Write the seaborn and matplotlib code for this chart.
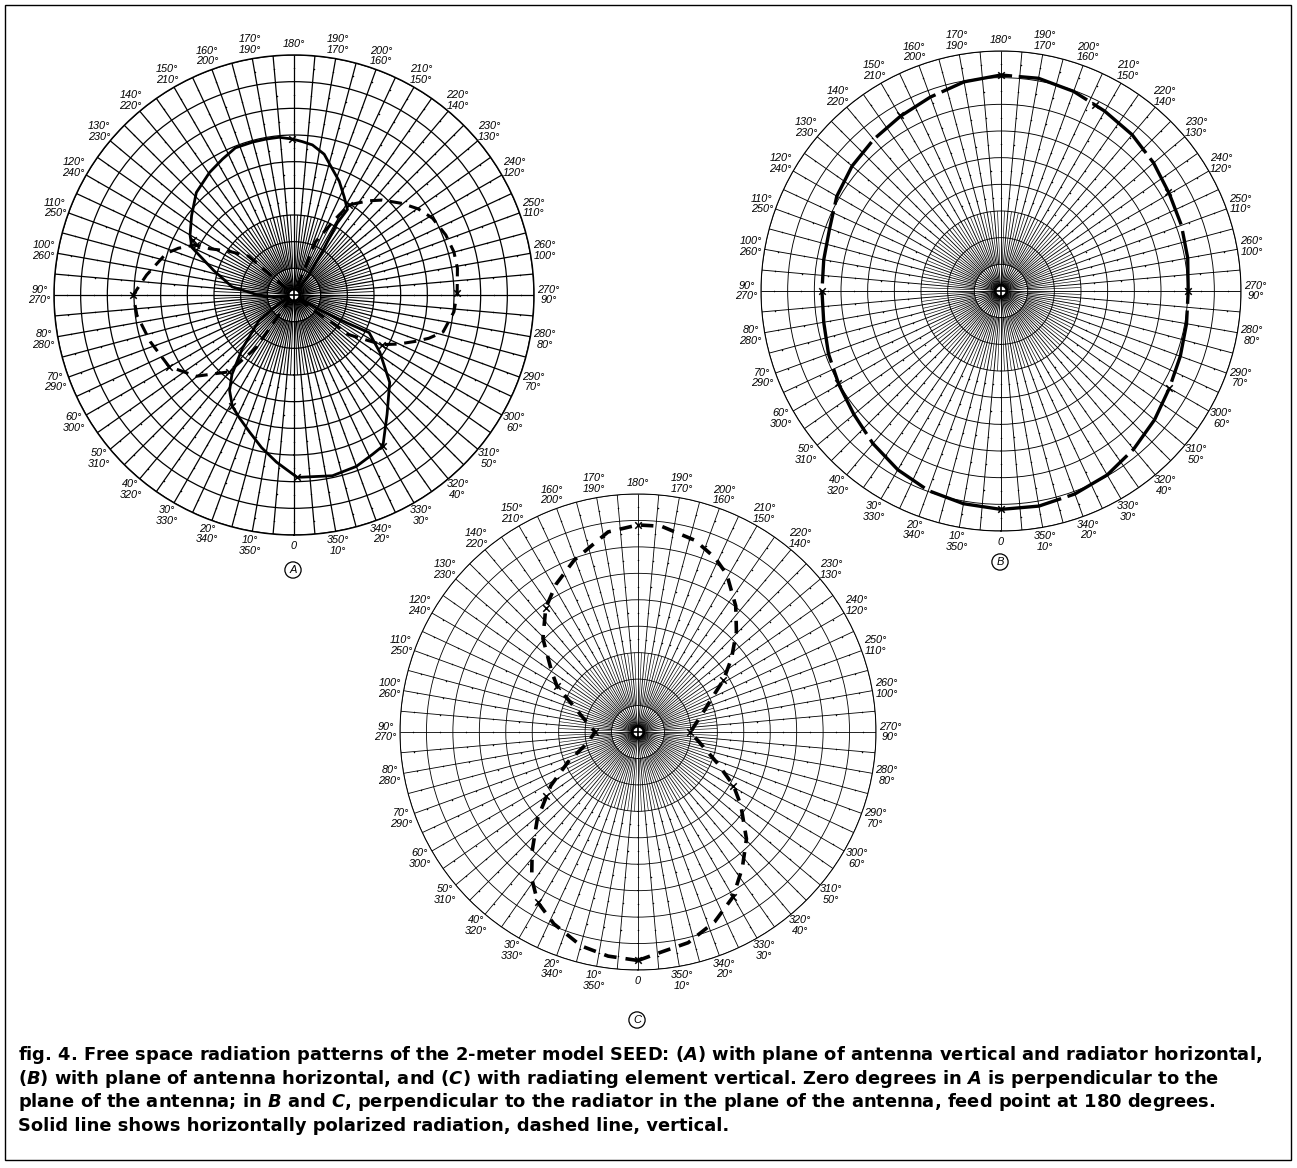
import numpy as np
import matplotlib.pyplot as plt
import seaborn as sns
from matplotlib.patches import Rectangle

# ---- data (angle in degrees, relative field 0..1) ----
# A: plane of antenna vertical, radiator horizontal
a_solid_top_deg = [80, 83, 90, 97.5, 107, 115, 120, 127.8, 136.4, 145.4, 152.3, 158.3, 164.8, 169.8, 174.6, 179.4,
                   183.1, 187, 192.1, 196.8, 201.7, 207, 212, 211, 213, 216, 218]
a_solid_top_r = [0.03, 0.07, 0.15, 0.26, 0.35, 0.47, 0.50, 0.54, 0.59, 0.62, 0.64, 0.66, 0.66, 0.66, 0.66, 0.65,
                 0.64, 0.63, 0.60, 0.55, 0.51, 0.46, 0.42, 0.35, 0.22, 0.11, 0.03]
a_solid_bot_deg = [300, 300, 297.8, 296.6, 303.7, 312.4, 322, 329.5, 333.7, 340, 348, 359, 6, 12, 18, 24, 29, 34,
                   38, 44, 54, 60, 62]
a_solid_bot_r = [0.03, 0.125, 0.25, 0.35, 0.43, 0.54, 0.63, 0.73, 0.74, 0.76, 0.77, 0.76, 0.70, 0.65, 0.60, 0.56,
                 0.53, 0.48, 0.42, 0.31, 0.18, 0.07, 0.03]
a_dash_left_deg = [130, 130.4, 123.7, 118.8, 117, 112, 108, 97.7, 90, 82.7, 72.1, 60.2, 50.3, 40.3, 35.7, 36.9, 40]
a_dash_left_r = [0.04, 0.25, 0.33, 0.40, 0.46, 0.52, 0.56, 0.62, 0.67, 0.66, 0.63, 0.60, 0.53, 0.42, 0.27, 0.10, 0.03]
a_dash_right_deg = [202, 202.1, 208.5, 211.4, 218.3, 222.9, 229.7, 235.3, 241, 248.4, 254.9, 260.7, 269.4, 276,
                    283.9, 287.8, 291, 295.2, 299.5, 302.1, 306, 305.7, 307.6, 310]
a_dash_right_r = [0.04, 0.24, 0.36, 0.44, 0.50, 0.54, 0.59, 0.63, 0.66, 0.68, 0.69, 0.69, 0.68, 0.67, 0.64, 0.59,
                  0.54, 0.48, 0.42, 0.35, 0.28, 0.21, 0.11, 0.03]
a_solid_x_deg = [179.4, 359, 329.5, 118.4, 29]
a_solid_x_r = [0.65, 0.76, 0.73, 0.48, 0.53]
a_dash_x_deg = [90, 269.4, 60.2, 117, 211.4, 299.5, 40.3]
a_dash_x_r = [0.67, 0.68, 0.60, 0.46, 0.44, 0.42, 0.42]

# B: plane of antenna horizontal
b_solid_deg = list(range(0, 361, 10))
b_solid_r = [0.91, 0.90, 0.885, 0.86, 0.83, 0.80, 0.78, 0.765, 0.75, 0.746, 0.75, 0.76, 0.79, 0.81, 0.825, 0.84,
             0.86, 0.885, 0.90, 0.90, 0.885, 0.865, 0.85, 0.83, 0.81, 0.80, 0.79, 0.78, 0.785, 0.795, 0.81, 0.835,
             0.86, 0.885, 0.90, 0.91, 0.91]
b_x_deg = [180, 239.4, 270, 300, 0, 90, 150, 60.7, 206.9]
b_x_r = [0.90, 0.81, 0.78, 0.81, 0.91, 0.746, 0.845, 0.78, 0.87]

# C: radiating element vertical
c_dash_deg = [0, 7.6, 14.9, 23.7, 30.5, 36, 41.6, 49.1, 58.4, 66.8, 77.3, 90, 101, 113.7, 119.4, 124.7, 134.5,
              143.4, 151, 159.6, 171.5, 180, 186.5, 196.6, 203.9, 209.4, 217.8, 224.5, 231.8, 238.7, 243.5, 255.2,
              270, 284, 291.6, 299.3, 305.4, 314.6, 322.5, 330.1, 338, 346.6, 354, 360]
c_dash_r = [0.96, 0.95, 0.93, 0.88, 0.83, 0.76, 0.67, 0.56, 0.43, 0.32, 0.22, 0.18, 0.22, 0.31, 0.39, 0.44, 0.56,
            0.65, 0.71, 0.77, 0.85, 0.87, 0.87, 0.84, 0.80, 0.76, 0.67, 0.59, 0.50, 0.42, 0.36, 0.275,
            0.22, 0.29, 0.36, 0.46, 0.53, 0.64, 0.72, 0.80, 0.86, 0.91, 0.93, 0.96]
c_x_deg = [180, 90, 270, 0, 30.5, 330.1, 119.4, 238.7, 55.4, 299.3, 143.4]
c_x_r = [0.87, 0.18, 0.22, 0.96, 0.83, 0.80, 0.39, 0.42, 0.47, 0.46, 0.65]

caption = [
    "fig. 4. Free space radiation patterns of the 2-meter model SEED: ($A$) with plane of antenna vertical and radiator horizontal,",
    "($B$) with plane of antenna horizontal, and ($C$) with radiating element vertical. Zero degrees in $A$ is perpendicular to the",
    "plane of the antenna; in $B$ and $C$, perpendicular to the radiator in the plane of the antenna, feed point at 180 degrees.",
    "Solid line shows horizontally polarized radiation, dashed line, vertical.",
]

sns.set_style("white")
plt.rcParams["font.family"] = ["Liberation Sans", "DejaVu Sans"]
plt.rcParams["text.color"] = "black"
plt.rcParams["mathtext.fontset"] = "custom"
plt.rcParams["mathtext.it"] = "DejaVu Sans:italic:bold"
plt.rcParams["mathtext.rm"] = "DejaVu Sans:bold"

W, H = 1297, 1168
fig = plt.figure(figsize=(W / 100, H / 100), dpi=100)


def panel(cx, cy, R, grid_lw):
    ax = fig.add_axes([(cx - R) / W, 1 - (cy + R) / H, 2 * R / W, 2 * R / H], projection="polar")
    ax.set_theta_zero_location("S")
    ax.set_theta_direction(-1)
    ax.set_thetagrids(np.arange(0, 360, 5), labels=[])
    ax.set_rgrids(np.arange(1, 10) / 9, labels=[])
    ax.xaxis.grid(False)
    ax.yaxis.grid(True, color="black", lw=grid_lw)
    ax.spines["polar"].set_linewidth(grid_lw * 1.2)
    ax.spines["polar"].set_color("black")
    ax.tick_params(length=0, pad=0)
    # spokes every 5 degrees, and extra ones near the centre
    ax.vlines(np.deg2rad(np.arange(0, 360, 5)), 0.03, 1, color="black", lw=grid_lw)
    ax.vlines(np.deg2rad(np.arange(2.5, 360, 5)), 0.11, 3 / 9, color="black", lw=grid_lw * 0.7)
    # tick dots on the spokes between the rings
    tt, rr = np.meshgrid(np.deg2rad(np.arange(0, 360, 5)), (np.arange(3, 9) + 0.5) / 9)
    ax.scatter(tt.ravel(), rr.ravel(), s=1.2, color="black", lw=0)
    t = np.linspace(0, 2 * np.pi, 120)
    ax.plot(t, np.full_like(t, 0.025), color="black", lw=2.2)
    ax.plot([0, np.pi], [0.025, 0.025], color="black", lw=1.2)
    ax.plot([np.pi / 2, 3 * np.pi / 2], [0.025, 0.025], color="black", lw=1.2)
    for d in range(0, 360, 10):
        if d == 0:
            lab, rl = "0", 1.045
        elif d == 180:
            lab, rl = "180°", 1.045
        else:
            lab, rl = f"{d}°\n{360 - d}°", 1.06
        ax.text(np.deg2rad(d), rl, lab, ha="center", va="center", fontsize=7.8,
                style="italic", linespacing=1.1)
    return ax


def trace(ax, deg, r, **kw):
    th = np.unwrap(np.deg2rad(deg))
    sns.lineplot(x=th, y=np.asarray(r), ax=ax, sort=False, estimator=None, color="black", **kw)


def marks(ax, deg, r):
    sns.scatterplot(x=np.deg2rad(deg), y=np.asarray(r), ax=ax, marker="x", color="black", s=22, linewidth=1.1)


ax_a = panel(294, 295, 240, 0.9)
trace(ax_a, a_solid_top_deg, a_solid_top_r, lw=2.0)
trace(ax_a, a_solid_bot_deg, a_solid_bot_r, lw=2.0)
trace(ax_a, a_dash_left_deg, a_dash_left_r, lw=2.2, linestyle=(0, (4, 2.5)))
trace(ax_a, a_dash_right_deg, a_dash_right_r, lw=2.2, linestyle=(0, (4, 2.5)))
marks(ax_a, a_solid_x_deg, a_solid_x_r)
marks(ax_a, a_dash_x_deg, a_dash_x_r)

ax_b = panel(1001, 291, 240, 0.65)
trace(ax_b, b_solid_deg, b_solid_r, lw=2.4, linestyle=(0, (22, 2)))
marks(ax_b, b_x_deg, b_x_r)

ax_c = panel(638, 732, 238, 0.6)
trace(ax_c, c_dash_deg, c_dash_r, lw=2.6, linestyle=(0, (3.5, 2.5)))
marks(ax_c, c_x_deg, c_x_r)

for ax in (ax_a, ax_b, ax_c):
    ax.set_ylim(0, 1)
    ax.set_xlabel("")
    ax.set_ylabel("")

for letter, x, y in (("A", 293, 570), ("B", 1000, 562), ("C", 637, 1020)):
    fig.text(x / W, 1 - y / H, letter, ha="center", va="center", fontsize=8, style="italic",
             bbox=dict(boxstyle="circle,pad=0.28", fc="white", ec="black", lw=0.9))

for i, line in enumerate(caption):
    fig.text(18 / W, 1 - (1055 + 23.7 * i) / H, line, ha="left", va="center", fontsize=12.85,
             fontweight="bold", family="DejaVu Sans")

fig.patches.append(Rectangle((5 / W, 8 / H), 1286 / W, 1155 / H, transform=fig.transFigure,
                             fill=False, ec="black", lw=1.0))

fig.savefig("out.png", dpi=100, facecolor="white")
